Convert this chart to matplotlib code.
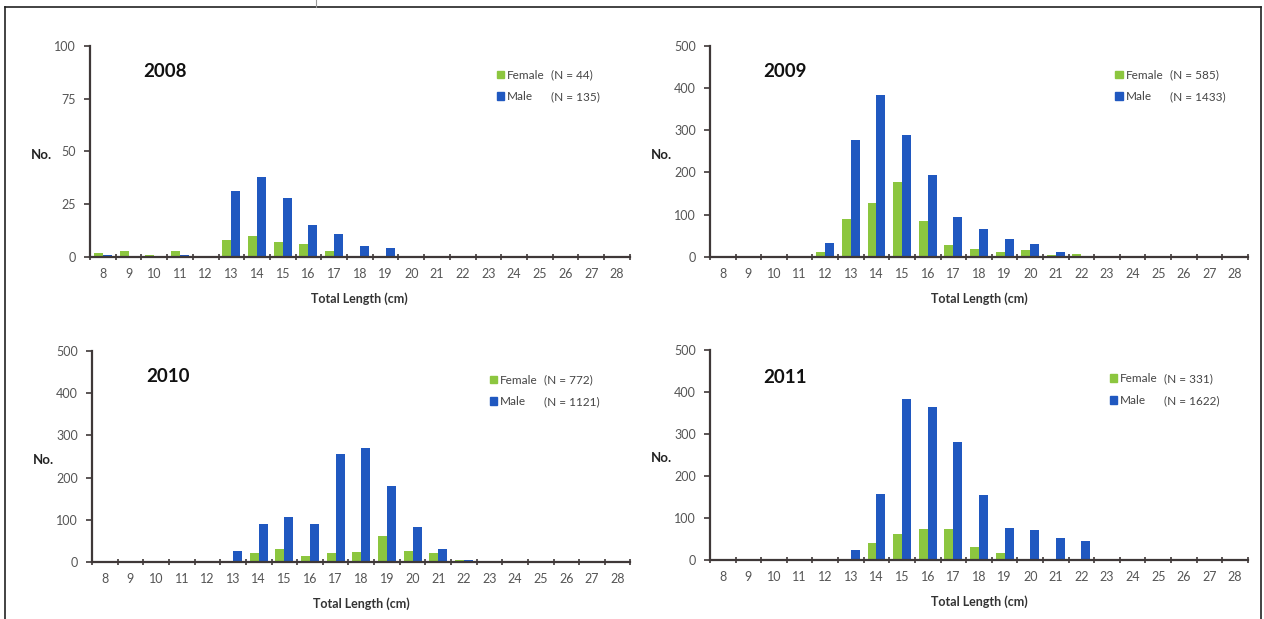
import matplotlib.pyplot as plt
import numpy as np
from matplotlib.patches import Patch

plt.rcParams["font.family"] = ["Lato", "DejaVu Sans"]

LENGTHS = list(range(8, 29))
YEARS = ["2008", "2009", "2010", "2011"]

# counts per length class 8..28 cm
female_2008 = [2, 3, 1, 3, 0, 8, 10, 7, 6, 3, 0.5, 0.5, 0, 0, 0, 0, 0, 0, 0, 0, 0]
male_2008 = [1, 0, 0.5, 1, 0, 31, 38, 28, 15, 11, 5, 4, 0, 0, 0, 0, 0, 0, 0, 0, 0]

female_2009 = [0, 0, 0, 0, 12, 90, 128, 177, 86, 27, 19, 12, 17, 5, 8, 0, 0, 0, 0, 0, 0]
male_2009 = [0, 0, 0, 0, 34, 277, 384, 289, 195, 94, 65, 42, 31, 11, 3, 0, 0, 0, 0, 0, 0]

female_2010 = [0, 0, 0, 0, 0, 3, 21, 31, 15, 21, 23, 61, 27, 21, 5, 0, 0, 0, 0, 0, 0]
male_2010 = [0, 0, 0, 0, 0, 27, 89, 106, 89, 256, 269, 179, 84, 32, 5, 0, 0, 0, 0, 0, 0]

female_2011 = [0, 0, 0, 0, 0, 0, 40, 63, 73, 74, 32, 16, 3, 3, 2, 0, 0, 0, 0, 0, 0]
male_2011 = [0, 0, 0, 0, 0, 25, 158, 382, 364, 280, 155, 76, 72, 52, 45, 2, 0, 0, 0, 0, 0]

FEMALE = [female_2008, female_2009, female_2010, female_2011]
MALE = [male_2008, male_2009, male_2010, male_2011]
N_FEMALE = ["44", "585", "772", "331"]
N_MALE = ["135", "1433", "1121", "1622"]
YMAX = [100, 500, 500, 500]
YSTEP = [25, 100, 100, 100]

GREEN = "#8cc63f"
BLUE = "#2058c0"
AXIS = "#3f3838"
TICK_TXT = "#555555"

# [left, bottom, width, height] in figure fractions
POSITIONS = [
    [0.0712, 0.585, 0.427, 0.341],
    [0.5617, 0.585, 0.4256, 0.341],
    [0.0728, 0.092, 0.426, 0.341],
    [0.5617, 0.095, 0.4256, 0.340],
]
YEAR_XY = [(0.139, 0.877), (0.139, 0.877), (0.141, 0.88), (0.139, 0.87)]
LEG_X = [0.745, 0.745, 0.73, 0.735]

fig = plt.figure(figsize=(12.64, 6.19), dpi=100)

# page frame
fig.add_artist(plt.Line2D([0.004, 0.998], [0.989, 0.989], color="#222222", lw=1.2))
fig.add_artist(plt.Line2D([0.004, 0.004], [0.0, 0.989], color="#222222", lw=1.2))
fig.add_artist(plt.Line2D([0.998, 0.998], [0.0, 0.989], color="#222222", lw=1.2))
fig.add_artist(plt.Line2D([0.25, 0.25], [0.989, 1.0], color="#999999", lw=0.8))

x = np.arange(len(LENGTHS))
w = 0.35

for i, pos in enumerate(POSITIONS):
    ax = fig.add_axes(pos)
    ax.bar(x - w / 2, FEMALE[i], width=w, color=GREEN, zorder=2)
    ax.bar(x + w / 2, MALE[i], width=w, color=BLUE, zorder=2)

    ax.set_xlim(-0.5, len(LENGTHS) - 0.5)
    ax.set_ylim(0, YMAX[i])
    ax.set_yticks(np.arange(0, YMAX[i] + 1, YSTEP[i]))
    ax.set_xticks(x)
    ax.set_xticklabels([str(v) for v in LENGTHS])
    ax.set_xticks(np.arange(-0.5, len(LENGTHS)), minor=True)
    ax.tick_params(axis="x", which="major", length=0, pad=8,
                   labelsize=9, labelcolor=TICK_TXT)
    ax.tick_params(axis="x", which="minor", length=4, width=1.2,
                   color=AXIS, direction="inout")
    ax.tick_params(axis="y", length=4, width=1.2, color=AXIS,
                   labelsize=9, labelcolor=TICK_TXT, pad=6)

    for s in ["top", "right"]:
        ax.spines[s].set_visible(False)
    for s in ["left", "bottom"]:
        ax.spines[s].set_color(AXIS)
        ax.spines[s].set_linewidth(1.6)
    ax.patch.set_alpha(0)

    ax.set_xlabel("Total Length (cm)", fontsize=9, fontweight="bold",
                  color="#333333", labelpad=9)
    ax.text(-0.09, 0.485, "No.", transform=ax.transAxes, fontsize=9.5,
            fontweight="bold", color="#222222", ha="center", va="center")
    ax.text(YEAR_XY[i][0], YEAR_XY[i][1], YEARS[i], transform=ax.transAxes,
            fontsize=13.5, fontweight="bold", color="#111111",
            ha="center", va="center")

    handles = [Patch(color=GREEN), Patch(color=BLUE),
               Patch(color="none"), Patch(color="none")]
    labels = ["Female", "Male", f"(N = {N_FEMALE[i]})", f"(N = {N_MALE[i]})"]
    leg = ax.legend(handles, labels, ncol=2, loc="upper left",
                    bbox_to_anchor=(LEG_X[i], 0.91), frameon=False,
                    fontsize=8.5, handlelength=0.6, handleheight=0.6,
                    handletextpad=0.25, columnspacing=-0.3,
                    labelspacing=0.9, borderaxespad=0)
    for t in leg.get_texts():
        t.set_color("#444444")

fig.savefig("out.png", dpi=100)
